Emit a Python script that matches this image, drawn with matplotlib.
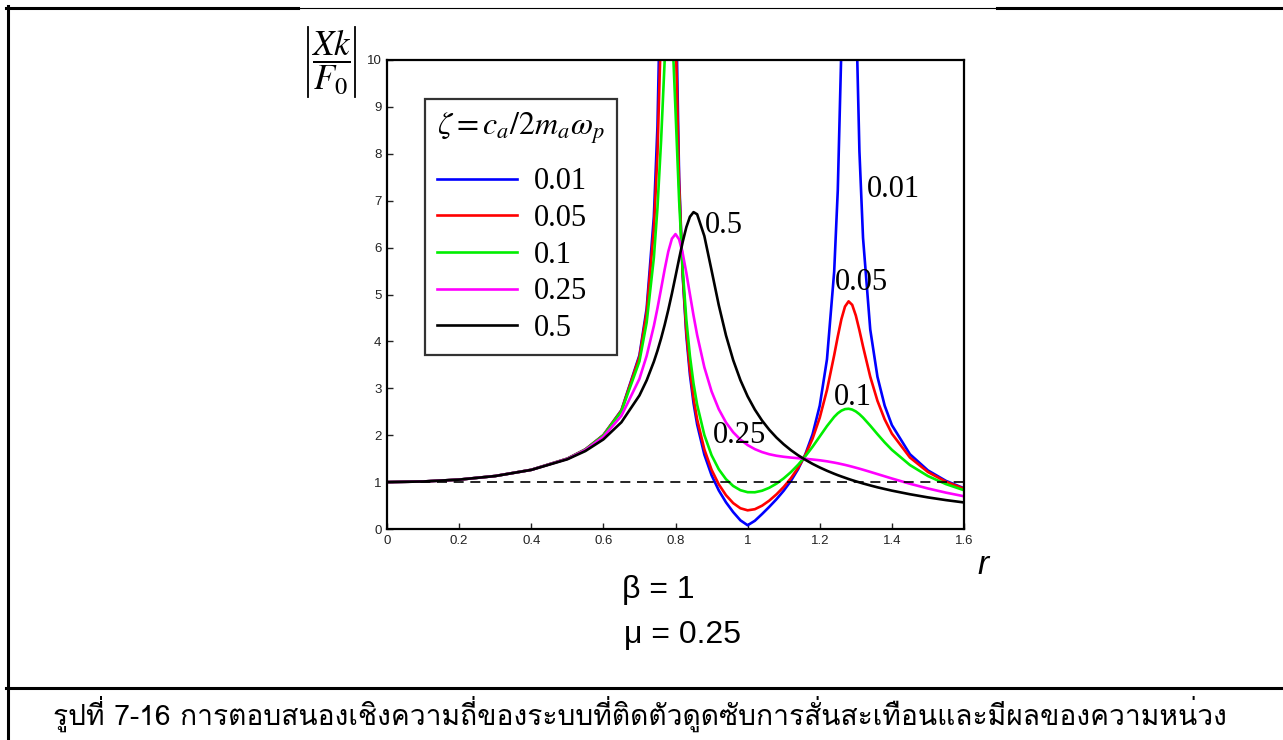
import matplotlib
matplotlib.use("Agg")
import matplotlib.pyplot as plt
from matplotlib.lines import Line2D
from matplotlib import font_manager as fm
from matplotlib.ft2font import FT2Font

# ---------------- data ----------------
r = [0, 0.1, 0.2, 0.3, 0.4, 0.5, 0.55, 0.6, 0.65, 0.7, 0.72, 0.74, 0.75, 0.76, 0.77,
     0.78, 0.79, 0.80, 0.81, 0.82, 0.83, 0.84, 0.85, 0.86, 0.88, 0.90, 0.92, 0.94,
     0.96, 0.98, 1.00, 1.02, 1.04, 1.06, 1.08, 1.10, 1.12, 1.14, 1.16, 1.18, 1.20,
     1.22, 1.24, 1.25, 1.26, 1.27, 1.28, 1.29, 1.30, 1.31, 1.32, 1.34, 1.36, 1.38,
     1.40, 1.45, 1.50, 1.55, 1.60]

zeta_001 = [1, 1.013, 1.053, 1.130, 1.262, 1.500, 1.697, 2.002, 2.533, 3.705, 4.702,
            6.663, 8.588, 12.33, 22.3, 40.0, 24.9, 11.79, 7.509, 5.392, 4.128, 3.286,
            2.683, 2.229, 1.586, 1.147, 0.823, 0.569, 0.360, 0.185, 0.080, 0.175,
            0.319, 0.472, 0.635, 0.816, 1.025, 1.276, 1.592, 2.017, 2.631, 3.617,
            5.486, 7.224, 10.27, 16.2, 23.7, 17.75, 11.34, 8.053, 6.208, 4.255, 3.246,
            2.631, 2.216, 1.595, 1.249, 1.026, 0.869]

zeta_005 = [1, 1.013, 1.053, 1.130, 1.262, 1.500, 1.697, 2.001, 2.527, 3.670, 4.619,
            6.396, 8.006, 10.72, 15.6, 21.3, 16.9, 10.73, 7.358, 5.432, 4.219, 3.391,
            2.792, 2.338, 1.697, 1.263, 0.952, 0.721, 0.552, 0.442, 0.398, 0.422,
            0.497, 0.605, 0.739, 0.896, 1.082, 1.305, 1.579, 1.925, 2.374, 2.963,
            3.705, 4.105, 4.473, 4.743, 4.854, 4.779, 4.552, 4.237, 3.892, 3.248,
            2.733, 2.338, 2.034, 1.525, 1.215, 1.007, 0.858]

zeta_01 = [1, 1.013, 1.053, 1.130, 1.262, 1.499, 1.695, 1.995, 2.508, 3.576, 4.402,
           5.784, 6.848, 8.275, 9.997, 11.28, 10.81, 8.925, 7.008, 5.537, 4.470, 3.689,
           3.102, 2.649, 2.004, 1.573, 1.273, 1.062, 0.917, 0.827, 0.785, 0.783,
           0.816, 0.879, 0.967, 1.079, 1.213, 1.370, 1.550, 1.753, 1.973, 2.194,
           2.390, 2.467, 2.523, 2.556, 2.564, 2.546, 2.507, 2.448, 2.375, 2.204,
           2.022, 1.847, 1.688, 1.364, 1.129, 0.957, 0.827]

zeta_025 = [1, 1.013, 1.053, 1.130, 1.261, 1.495, 1.685, 1.965, 2.413, 3.202, 3.692,
            4.330, 4.709, 5.120, 5.537, 5.916, 6.190, 6.288, 6.176, 5.878, 5.463,
            5.004, 4.552, 4.137, 3.448, 2.934, 2.554, 2.272, 2.062, 1.906, 1.789,
            1.703, 1.640, 1.594, 1.562, 1.540, 1.523, 1.509, 1.497, 1.482, 1.465,
            1.443, 1.416, 1.401, 1.384, 1.367, 1.348, 1.328, 1.307, 1.286, 1.264,
            1.218, 1.171, 1.124, 1.077, 0.965, 0.864, 0.775, 0.698]

zeta_05 = [1, 1.013, 1.053, 1.129, 1.260, 1.486, 1.662, 1.910, 2.276, 2.848, 3.169,
           3.568, 3.802, 4.063, 4.353, 4.672, 5.019, 5.387, 5.762, 6.123, 6.434,
           6.657, 6.756, 6.711, 6.246, 5.515, 4.773, 4.128, 3.600, 3.174, 2.828,
           2.546, 2.312, 2.116, 1.949, 1.806, 1.681, 1.572, 1.476, 1.389, 1.312,
           1.242, 1.178, 1.148, 1.120, 1.093, 1.066, 1.041, 1.017, 0.994, 0.971,
           0.929, 0.889, 0.853, 0.818, 0.741, 0.674, 0.616, 0.566]

series_labels = ["0.01", "0.05", "0.1", "0.25", "0.5"]
series_values = [zeta_001, zeta_005, zeta_01, zeta_025, zeta_05]
series_colors = ["#0000ff", "#ff0000", "#00ee00", "#ff00ff", "#000000"]

x_ticks = [0, 0.2, 0.4, 0.6, 0.8, 1.0, 1.2, 1.4, 1.6]
x_tick_labels = ["0", "0.2", "0.4", "0.6", "0.8", "1", "1.2", "1.4", "1.6"]
y_ticks = [0, 1, 2, 3, 4, 5, 6, 7, 8, 9, 10]

# curve annotations: (text, x, y)
annotations = [("0.01", 1.330, 7.23), ("0.05", 1.242, 5.25), ("0.1", 1.239, 2.80),
               ("0.25", 0.904, 2.00), ("0.5", 0.882, 6.48)]

caption = "รูปที่ 7-16 การตอบสนองเชิงความถี่ของระบบที่ติดตัวดูดซับการสั่นสะเทือนและมีผลของความหน่วง"

# ---------------- fonts ----------------
plt.rcParams["mathtext.fontset"] = "stix"


def find_font_with(ch):
    code = ord(ch)
    seen = set()
    for f in fm.fontManager.ttflist:
        if f.fname in seen:
            continue
        seen.add(f.fname)
        try:
            if code in FT2Font(f.fname).get_charmap():
                return f.name
        except Exception:
            pass
    return None


thai_font = find_font_with("ร")
caption_family = ([thai_font] if thai_font else []) + ["Liberation Sans", "DejaVu Sans"]

# ---------------- figure ----------------
W, H = 1283, 740
fig = plt.figure(figsize=(W / 100, H / 100), dpi=100)

# axes placement (pixels): left 387, right 964, top 60, bottom 529
L, R, T, B = 387, 964, 60, 529
ax = fig.add_axes([L / W, 1 - B / H, (R - L) / W, (B - T) / H])

lines = []
for vals, lab, col in zip(series_values, series_labels, series_colors):
    ln, = ax.plot(r, vals, color=col, lw=1.9, label=lab, solid_joinstyle="round")
    lines.append(ln)

ax.axhline(1, color="black", lw=1.2, ls=(0, (6, 4)))

ax.set_xlim(0, 1.6)
ax.set_ylim(0, 10)
ax.set_xticks(x_ticks)
ax.set_xticklabels(x_tick_labels)
ax.set_yticks(y_ticks)
ax.tick_params(direction="in", length=4, width=1, labelsize=9.5,
               colors="#222222", pad=4)
for lab in ax.get_xticklabels() + ax.get_yticklabels():
    lab.set_fontfamily("Liberation Sans")
for sp in ax.spines.values():
    sp.set_linewidth(1.6)

for txt, xx, yy in annotations:
    ax.text(xx, yy, txt, fontsize=22, family="Liberation Serif",
            ha="left", va="center")

leg = ax.legend(handles=lines, loc="upper left", bbox_to_anchor=(0.066, 0.917),
                borderaxespad=0,
                title=r"$\zeta = c_a/2m_a\omega_p$", title_fontsize=23,
                prop={"family": "Liberation Serif", "size": 22},
                frameon=True, fancybox=False, edgecolor="black",
                handlelength=2.6, handletextpad=0.55, labelspacing=0.25,
                borderpad=0.4, alignment="left")
leg.get_frame().set_linewidth(1.6)
# extra gap between the legend title and the first entry
leg._legend_box.sep = 15

# y-axis label |Xk/F0|
fig.text(331 / W, 1 - 62 / H, r"$\dfrac{Xk}{F_0}$", fontsize=25,
         ha="center", va="center")
for bx in (308, 355):
    fig.add_artist(Line2D([bx / W, bx / W], [1 - 27 / H, 1 - 97 / H],
                          color="black", lw=1.3, transform=fig.transFigure))
# x-axis label r
fig.text(983 / W, 1 - 565 / H, "r", fontsize=24, style="italic",
         family="Liberation Sans", ha="center", va="center")

fig.text(658 / W, 1 - 590 / H, "β = 1", fontsize=23, family="Liberation Sans",
         ha="center", va="center")
fig.text(682 / W, 1 - 635 / H, "μ = 0.25", fontsize=23, family="Liberation Sans",
         ha="center", va="center")

fig.text(640 / W, 1 - 714 / H, caption, fontsize=20.3, family=caption_family,
         ha="center", va="center")

# frame lines
def hline(y, x0, x1, lw):
    fig.add_artist(Line2D([x0 / W, x1 / W], [1 - y / H, 1 - y / H],
                          color="black", lw=lw, transform=fig.transFigure))

def vline(x, y0, y1, lw):
    fig.add_artist(Line2D([x / W, x / W], [1 - y0 / H, 1 - y1 / H],
                          color="black", lw=lw, transform=fig.transFigure))

hline(7.5, 6, 298, 2.2)
hline(7.5, 298, 997, 0.8)
hline(7.5, 997, 1283, 2.2)
hline(688, 6, 1283, 2.2)
vline(7.5, 6, 740, 2.2)

fig.savefig("out.png", dpi=100)
